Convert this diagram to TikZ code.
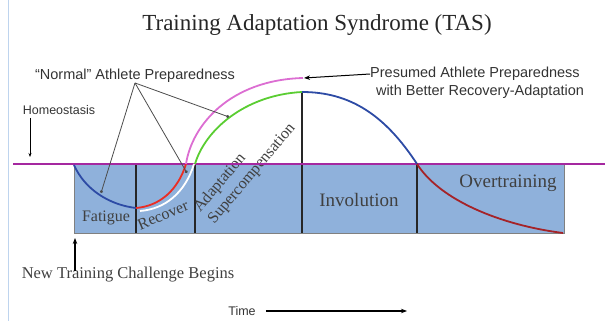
\documentclass[tikz,border=0pt]{standalone}
\usepackage{fontspec}
\setmainfont{Liberation Serif}
\setsansfont{Liberation Sans}
\usetikzlibrary{arrows.meta}

\definecolor{cassa}{RGB}{143,177,219}
\definecolor{omeo}{RGB}{165,40,160}
\definecolor{rosa}{RGB}{220,110,210}
\definecolor{verde}{RGB}{90,205,50}
\definecolor{blu}{RGB}{45,75,165}
\definecolor{rosso}{RGB}{235,45,35}
\definecolor{bordeaux}{RGB}{165,35,40}
\definecolor{bordo}{RGB}{190,212,238}

\begin{document}
\begin{tikzpicture}[
    x=1pt, y=-1pt,
    divisore/.style={black!85, line width=1.3pt},
    curva/.style={line width=1.8pt},
    richiamo/.style={black!70, line width=0.8pt, -{Circle[length=3pt]}},
    freccia/.style={black, line width=1pt, -{Stealth[length=6pt,width=4.5pt]}},
    fase/.style={font=\fontsize{16}{18}\selectfont\rmfamily, text=black!75, inner sep=0pt},
    nota/.style={font=\fontsize{14.5}{16}\selectfont\sffamily, text=black!80, inner sep=0pt},
  ]
  \useasboundingbox (0,0) rectangle (605,321);

  % --- bordo a sinistra ------------------------------------------------
  \draw[bordo, line width=1pt] (8,0) -- (8,321);

  % --- titolo ----------------------------------------------------------
  \node[font=\fontsize{23}{26}\selectfont\rmfamily, text=black!85] (titolo)
    at (317,25) {Training Adaptation Syndrome (TAS)};

  % --- la fascia sotto l'omeostasi, con le fasi ------------------------
  \fill[cassa] (74,164) rectangle (564,233);
  \draw[gray, line width=0.7pt] (74,164) rectangle (564,233);
  \foreach \x in {136,195,417}{%
    \draw[divisore] (\x,164) -- (\x,233);
  }
  \draw[divisore] (302,92) -- (302,233);

  \node[fase] (fatica)   at (106,218) {Fatigue};
  \node[fase, rotate=23] (recupero) at (163,215) {Recover};
  \node[fase, rotate=50, align=left, font=\fontsize{16}{18.5}\selectfont\rmfamily]
    (adatt) at (245,168) {Adaptation\\Supercompensation};
  \node[fase, font=\fontsize{19}{21}\selectfont\rmfamily] (involuzione)
    at (359,200) {Involution};
  \node[fase, font=\fontsize{19}{21}\selectfont\rmfamily] (sovrall)
    at (508,183) {Overtraining};

  % --- linea dell'omeostasi --------------------------------------------
  \draw[omeo, line width=2.4pt] (13,164) -- (605,164);

  % --- le curve --------------------------------------------------------
  \draw[curva, blu] (74,165) .. controls (85,190) and (110,205) .. (136,208);
  \draw[curva, white] (140,211) .. controls (165,209) and (185,193) .. (194,164);
  \draw[curva, rosso] (136,208) .. controls (160,206) and (178,190) .. (186,164);
  \draw[curva, rosa] (186,164) .. controls (192,125) and (230,80) .. (303,78);
  \draw[curva, verde] (195,164) .. controls (205,130) and (245,95) .. (302,92);
  \draw[curva, blu] (302,92) .. controls (350,92) and (385,115) .. (417,164);
  \draw[curva, bordeaux] (417,164) .. controls (440,200) and (500,225) .. (563,233);

  % --- punti richiamati ------------------------------------------------
  \coordinate (pFat) at (101,193);
  \coordinate (pRec) at (187,173);
  \coordinate (pAda) at (229,117);
  \coordinate (picco) at (304,78);

  % --- didascalie con richiami -----------------------------------------
  \node[nota] (normale) at (135,76) {``Normal'' Athlete Preparedness};
  \draw[richiamo] (normale.south) -- (pFat);
  \draw[richiamo] (normale.south) -- (pRec);
  \draw[richiamo] (normale.south) -- (pAda);

  \node[nota] (pres1) at (475,74) {Presumed Athlete Preparedness};
  \node[nota] (pres2) at (480,92) {with Better Recovery-Adaptation};
  \draw[freccia] (pres1.west) -- (picco);

  \node[nota, font=\fontsize{12.5}{15}\selectfont\sffamily] (omeostasi)
    at (59,110) {Homeostasis};
  \coordinate (omeoPunta) at (30,157);
  \draw[freccia, line width=0.7pt, -{Stealth[length=4pt,width=3pt]}]
    (omeoPunta |- omeostasi.south) ++(0,3) -- (omeoPunta);

  % --- inizio del nuovo carico e asse del tempo ------------------------
  \node[fase, font=\fontsize{16.5}{18}\selectfont\rmfamily] (nuova)
    at (128,275) {New Training Challenge Begins};
  \coordinate (inizio) at (75,238);
  \draw[freccia, line width=1.4pt] ([yshift=-4pt]inizio |- nuova.north) -- (inizio);

  \node[nota, font=\fontsize{12.5}{15}\selectfont\sffamily] (tempo) at (242,311) {Time};
  \coordinate (fineTempo) at (407,311);
  \draw[freccia, line width=1.4pt] ([xshift=10pt]tempo.east) -- (fineTempo);

\end{tikzpicture}
\end{document}
